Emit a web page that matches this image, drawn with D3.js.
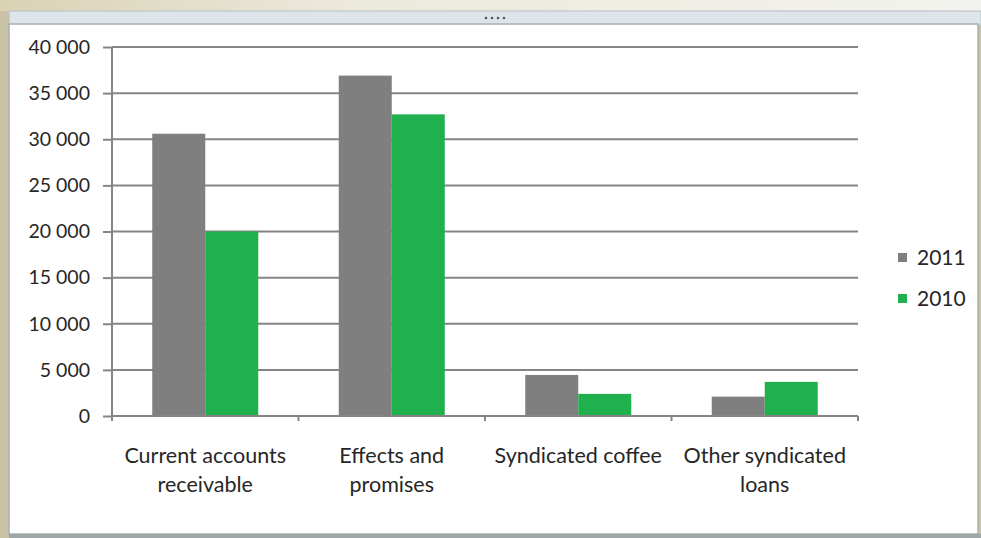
<!DOCTYPE html>
<html>
<head>
<meta charset="utf-8">
<script src="https://cdn.jsdelivr.net/npm/d3@7/dist/d3.min.js"></script>
<style>
  html, body { margin: 0; padding: 0; background: #ffffff; }
  svg { display: block; }
  text { font-family: Lato, "Open Sans", sans-serif; fill: #262626; }
</style>
</head>
<body>
<svg id="chart" width="981" height="538"></svg>
<script>
// ---- data ----
const categories = ["Current accounts receivable", "Effects and promises", "Syndicated coffee", "Other syndicated loans"];
const seriesNames = ["2011", "2010"];
const values2011 = [30600, 36900, 4450, 2100];
const values2010 = [20000, 32700, 2400, 3700];
const yTicks = [0, 5000, 10000, 15000, 20000, 25000, 30000, 35000, 40000];
const colors = ["#7f7f7f", "#21b04e"];

(function () {
const svg = d3.select("#chart");
const W = 981, H = 538;

// ---- window frame (screenshot surroundings) ----
const defs = svg.append("defs");
const tg = defs.append("linearGradient").attr("id", "topg").attr("x1", 0).attr("x2", 1);
tg.append("stop").attr("offset", 0).attr("stop-color", "#d9d2b4");
tg.append("stop").attr("offset", 0.35).attr("stop-color", "#ece9dc");
tg.append("stop").attr("offset", 1).attr("stop-color", "#f2f3ee");
svg.append("rect").attr("x", 0).attr("y", 0).attr("width", W).attr("height", H).attr("fill", "#c9c2a5");
svg.append("rect").attr("x", 0).attr("y", 0).attr("width", W).attr("height", 11).attr("fill", "url(#topg)");
svg.append("rect").attr("x", 9).attr("y", 11).attr("width", W - 9).attr("height", 14).attr("fill", "#dde5ea").attr("stroke", "#b7c0c4").attr("stroke-width", 1);
svg.append("rect").attr("x", 9).attr("y", 24).attr("width", W - 12).attr("height", 510).attr("fill", "#ffffff").attr("stroke", "#a9b0b2").attr("stroke-width", 1.5);
svg.append("rect").attr("x", 9).attr("y", 534).attr("width", W - 9).attr("height", 4).attr("fill", "#9fa7a7");
svg.append("g").selectAll("circle").data([0, 1, 2, 3]).join("circle")
  .attr("cx", d => 486 + d * 6).attr("cy", 18).attr("r", 1.3).attr("fill", "#555");

// ---- scales ----
const pLeft = 112, pRight = 858, pTop = 47, pBottom = 416;
const x0 = d3.scaleBand().domain(categories).range([pLeft, pRight]).paddingInner(0).paddingOuter(0);
const bw = x0.bandwidth();
const groupW = bw * 106 / 186.5;
const x1 = d3.scaleBand().domain(seriesNames).range([0, groupW]).padding(0);
const y = d3.scaleLinear().domain([0, 40000]).range([pBottom, pTop]);

const fmt = v => d3.format(",")(v).replace(/,/g, " ");

// gridlines
svg.append("g").selectAll("line").data(yTicks.filter(t => t > 0)).join("line")
  .attr("x1", pLeft).attr("x2", pRight)
  .attr("y1", d => y(d)).attr("y2", d => y(d))
  .attr("stroke", "#858585").attr("stroke-width", 2);

// y axis
const yAxis = svg.append("g").attr("transform", `translate(${pLeft},0)`)
  .call(d3.axisLeft(y).tickValues(yTicks).tickFormat(fmt).tickSize(9).tickPadding(13));
yAxis.select(".domain").attr("stroke", "#858585").attr("stroke-width", 2).attr("d", `M0,${pTop}V${pBottom + 4}`);
yAxis.selectAll(".tick line").attr("stroke", "#858585").attr("stroke-width", 2);
yAxis.selectAll(".tick text").attr("font-size", 19.5).attr("fill", "#262626")
  .style("font-family", "Lato, 'Open Sans', sans-serif");

// bars
const series = [values2011, values2010];
const gBars = svg.append("g");
categories.forEach((c, i) => {
  const gx = x0(c) + (bw - groupW) / 2;
  gBars.selectAll(null).data(seriesNames.map((s, j) => ({ s, v: series[j][i], j }))).join("rect")
    .attr("x", d => gx + x1(d.s))
    .attr("y", d => y(d.v))
    .attr("width", x1.bandwidth())
    .attr("height", d => y(0) - y(d.v))
    .attr("fill", d => colors[d.j]);
});

// x axis
const xAxis = svg.append("g").attr("transform", `translate(0,${pBottom})`);
xAxis.append("line").attr("x1", pLeft).attr("x2", pRight).attr("y1", 0).attr("y2", 0)
  .attr("stroke", "#858585").attr("stroke-width", 2);
const bounds = categories.map(c => x0(c)).concat([pRight]);
xAxis.selectAll("line.tk").data(bounds).join("line").attr("class", "tk")
  .attr("x1", d => d).attr("x2", d => d).attr("y1", 0).attr("y2", 5)
  .attr("stroke", "#858585").attr("stroke-width", 2);

// category labels, wrapped
const labelG = svg.append("g");
categories.forEach(c => {
  const cx = x0(c) + bw / 2;
  const t = labelG.append("text").attr("x", cx).attr("y", 463)
    .attr("text-anchor", "middle").attr("font-size", 21.5);
  const words = c.split(" ");
  let line = [];
  let tspan = t.append("tspan").attr("x", cx).attr("dy", 0);
  words.forEach(w => {
    line.push(w);
    tspan.text(line.join(" "));
    if (tspan.node().getComputedTextLength() > 180 && line.length > 1) {
      line.pop();
      tspan.text(line.join(" "));
      line = [w];
      tspan = t.append("tspan").attr("x", cx).attr("dy", 29).text(w);
    }
  });
});

// legend
const lg = svg.append("g");
seriesNames.forEach((s, i) => {
  const ly = 258 + i * 41;
  lg.append("rect").attr("x", 898).attr("y", ly - 5).attr("width", 9).attr("height", 9).attr("fill", colors[i]);
  lg.append("text").attr("x", 917).attr("y", ly + 7).attr("font-size", 21).text(s);
});
})();
</script>
</body>
</html>
